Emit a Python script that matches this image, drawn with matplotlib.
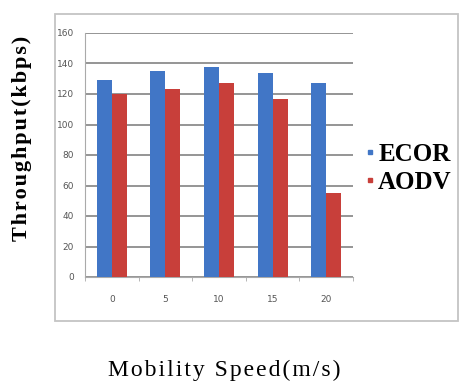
import matplotlib
matplotlib.use('Agg')
import matplotlib.pyplot as plt
from matplotlib.patches import Rectangle
from matplotlib.lines import Line2D
import numpy as np

# Data
speeds = ['0', '5', '10', '15', '20']
ecor = [129, 135, 138, 134, 127]
aodv = [120, 123, 127, 117, 55]

x = np.arange(len(speeds))
width = 0.28
blue = '#4176c6'
red = '#c83f3a'
serif = ['Liberation Serif', 'DejaVu Serif']


def spaced(s):
    # the scanned labels have loose letter spacing
    return '\u200a'.join(s)


fig = plt.figure(figsize=(4.65, 3.91), dpi=100)
fig.patch.set_facecolor('white')

# outer chart frame
fig.patches.append(Rectangle((55/465, 1 - 321/391), 403/465, (321 - 14)/391,
                             transform=fig.transFigure, fill=False,
                             edgecolor='#c4c4c4', lw=1.3))

ax = fig.add_axes([85/465, 1 - 277/391, 268/465, (277 - 33)/391])
ax.bar(x - width/2, ecor, width, color=blue, zorder=3)
ax.bar(x + width/2, aodv, width, color=red, zorder=3)

ax.set_xlim(-0.5, 4.5)
ax.set_ylim(0, 160)
ax.set_yticks(np.arange(0, 161, 20))
ax.set_xticks(x)
ax.set_xticklabels(speeds)
ax.tick_params(axis='y', labelsize=6.5, length=0, pad=8, colors='#555555')
ax.tick_params(axis='x', labelsize=6.5, length=0, pad=13, colors='#555555')
ax.set_xticks(np.arange(-0.5, 4.6, 1), minor=True)
ax.tick_params(axis='x', which='minor', length=3, color='#aaaaaa')
ax.grid(axis='y', color='#8c8c8c', lw=1.3, zorder=0)
for s in ['top', 'right']:
    ax.spines[s].set_visible(False)
ax.spines['left'].set_color('#aaaaaa')
ax.spines['bottom'].set_color('#aaaaaa')

fig.text(22/465, 1 - 138/391, spaced('Throughput(kbps)'), rotation=90,
         ha='center', va='center', family=serif, fontweight='bold', fontsize=16)
fig.text(224/465, 1 - 370/391, spaced('Mobility Speed(m/s)'), ha='center', va='center',
         family=serif, fontsize=17)

handles = [Line2D([], [], marker='s', ls='', color=blue, markersize=3.5),
           Line2D([], [], marker='s', ls='', color=red, markersize=3.5)]
fig.legend(handles, ['ECOR', 'AODV'], loc='center left',
           bbox_to_anchor=(362/465, 1 - 168/391), frameon=False,
           prop={'family': serif, 'weight': 'bold', 'size': 18},
           handletextpad=0.05, handlelength=0.6, labelspacing=0.2,
           borderpad=0, borderaxespad=0)

fig.savefig('out.png', dpi=100, facecolor='white')
